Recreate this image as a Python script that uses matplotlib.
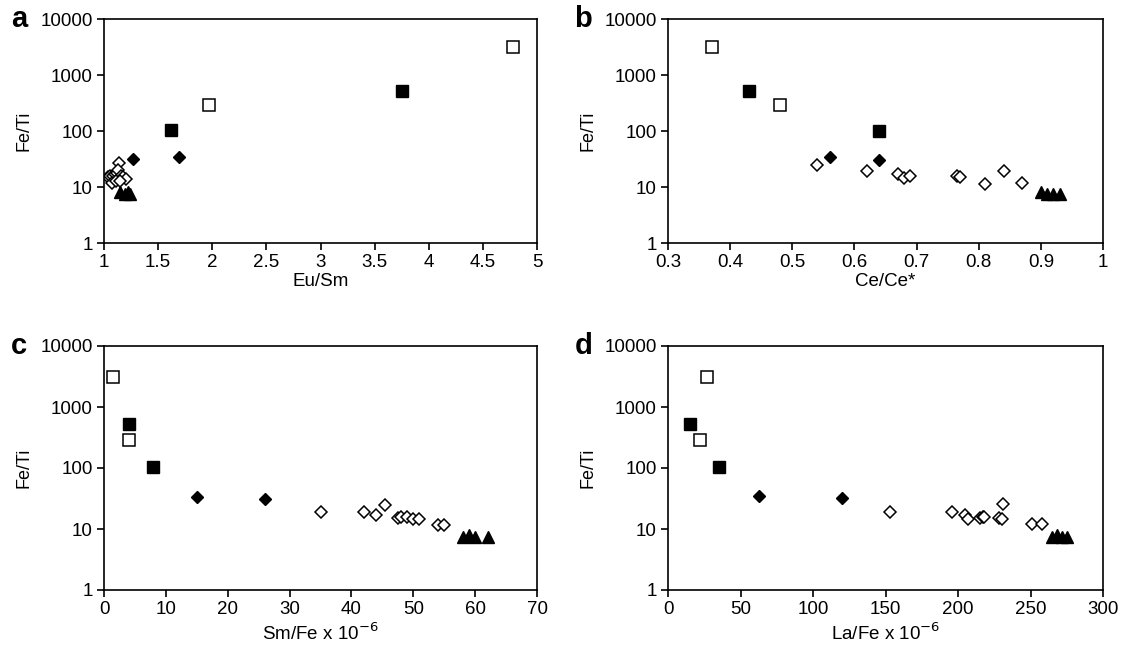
import matplotlib
matplotlib.use("Agg")
import matplotlib.pyplot as plt
from matplotlib.ticker import FixedLocator, FixedFormatter, NullLocator

plt.rcParams['font.family'] = ['Liberation Sans', 'DejaVu Sans']

# panel a: Eu/Sm vs Fe/Ti
a_osq_x = [4.78, 1.97]
a_osq_y = [3100, 290]
a_bsq_x = [3.75, 1.62]
a_bsq_y = [520, 105]
a_bdi_x = [1.27, 1.69]
a_bdi_y = [32, 34]
a_odi_x = [1.14, 1.04, 1.06, 1.08, 1.10, 1.12, 1.13, 1.16, 1.18, 1.20, 1.07, 1.11, 1.15]
a_odi_y = [27, 15, 16, 16, 17, 18, 20, 16, 15, 14, 12, 13, 13]
a_tri_x = [1.15, 1.19, 1.22, 1.24]
a_tri_y = [8, 7.5, 8, 7.5]

# panel b: Ce/Ce* vs Fe/Ti
b_osq_x = [0.37, 0.48]
b_osq_y = [3100, 290]
b_bsq_x = [0.43, 0.64]
b_bsq_y = [520, 100]
b_bdi_x = [0.56, 0.64]
b_bdi_y = [34, 30]
b_odi_x = [0.54, 0.62, 0.67, 0.68, 0.69, 0.765, 0.77, 0.81, 0.84, 0.87]
b_odi_y = [25, 19, 17, 14.5, 15.5, 16, 15, 11.5, 19, 12]
b_tri_x = [0.90, 0.91, 0.92, 0.93]
b_tri_y = [8, 7.5, 7.5, 7.5]

# panel c: Sm/Fe vs Fe/Ti
c_osq_x = [1.5, 4]
c_osq_y = [3100, 290]
c_bsq_x = [4, 8]
c_bsq_y = [520, 105]
c_bdi_x = [15, 26]
c_bdi_y = [34, 31]
c_odi_x = [35, 42, 44, 45.5, 47.5, 48, 49, 50, 51, 54, 55]
c_odi_y = [19, 19, 17, 25, 15, 15.5, 15.5, 14.5, 14.5, 11.5, 11.5]
c_tri_x = [58, 59, 60, 62]
c_tri_y = [7.5, 8, 7.5, 7.5]

# panel d: La/Fe vs Fe/Ti
d_osq_x = [27, 22]
d_osq_y = [3100, 290]
d_bsq_x = [15, 35]
d_bsq_y = [520, 105]
d_bdi_x = [63, 120]
d_bdi_y = [35, 32]
d_odi_x = [153, 196, 205, 207, 215, 217, 218, 228, 230, 231, 251, 258]
d_odi_y = [19, 19, 17, 14.5, 15, 15.5, 16, 15, 14.5, 26, 12, 12]
d_tri_x = [265, 268, 272, 275]
d_tri_y = [7.5, 8, 7.5, 7.5]

y_ticks = [1, 10, 100, 1000, 10000]
a_xticks = [1, 1.5, 2, 2.5, 3, 3.5, 4, 4.5, 5]
b_xticks = [0.3, 0.4, 0.5, 0.6, 0.7, 0.8, 0.9, 1]
c_xticks = [0, 10, 20, 30, 40, 50, 60, 70]
d_xticks = [0, 50, 100, 150, 200, 250, 300]

W, H = 1121, 648
fig = plt.figure(figsize=(W / 100, H / 100), dpi=100)


def make_ax(l, r, t, b):
    return fig.add_axes([l / W, (H - b) / H, (r - l) / W, (b - t) / H])


axa = make_ax(104, 537, 19, 243)
axb = make_ax(668, 1103, 19, 243)
axc = make_ax(104, 537, 346, 590)
axd = make_ax(668, 1103, 346, 590)

panels = [
    (axa, 'a', 'Eu/Sm', -0.192, a_xticks, a_osq_x, a_osq_y, a_bsq_x, a_bsq_y, a_bdi_x, a_bdi_y, a_odi_x, a_odi_y, a_tri_x, a_tri_y),
    (axb, 'b', 'Ce/Ce*', -0.192, b_xticks, b_osq_x, b_osq_y, b_bsq_x, b_bsq_y, b_bdi_x, b_bdi_y, b_odi_x, b_odi_y, b_tri_x, b_tri_y),
    (axc, 'c', 'Sm/Fe x 10$^{-6}$', -0.205, c_xticks, c_osq_x, c_osq_y, c_bsq_x, c_bsq_y, c_bdi_x, c_bdi_y, c_odi_x, c_odi_y, c_tri_x, c_tri_y),
    (axd, 'd', 'La/Fe x 10$^{-6}$', -0.205, d_xticks, d_osq_x, d_osq_y, d_bsq_x, d_bsq_y, d_bdi_x, d_bdi_y, d_odi_x, d_odi_y, d_tri_x, d_tri_y),
]

for (ax, letter, xlab, xlab_y, xt, osx, osy, bsx, bsy, bdx, bdy, odx, ody, tx, ty) in panels:
    ax.set_yscale('log')
    ax.set_ylim(1, 10000)
    ax.set_xlim(xt[0], xt[-1])
    ax.plot(odx, ody, 'D', ms=6, mfc='white', mec='black', mew=1.1, ls='none')
    ax.plot(osx, osy, 's', ms=8, mfc='white', mec='black', mew=1.1, ls='none')
    ax.plot(bsx, bsy, 's', ms=8, mfc='black', mec='black', ls='none')
    ax.plot(bdx, bdy, 'D', ms=6.5, mfc='black', mec='black', ls='none')
    ax.plot(tx, ty, '^', ms=9, mfc='black', mec='black', ls='none')

    ax.yaxis.set_major_locator(FixedLocator(y_ticks))
    ax.yaxis.set_major_formatter(FixedFormatter([str(v) for v in y_ticks]))
    ax.yaxis.set_minor_locator(NullLocator())
    ax.xaxis.set_major_locator(FixedLocator(xt))
    ax.xaxis.set_major_formatter(FixedFormatter(['%g' % v for v in xt]))
    ax.tick_params(axis='both', direction='out', length=5, width=1.2, labelsize=13.5, pad=3)
    for s in ax.spines.values():
        s.set_linewidth(1.2)
    ax.set_xlabel(xlab, fontsize=13.5, va='baseline')
    ax.xaxis.set_label_coords(0.5, xlab_y)
    ax.set_ylabel('Fe/Ti', fontsize=13)
    ax.yaxis.set_label_coords(-0.165, 0.5)
    ax.text(-0.215, 1.0, letter, transform=ax.transAxes, fontsize=21, fontweight='bold',
            ha='left', va='center')

fig.savefig('out.png', dpi=100)
